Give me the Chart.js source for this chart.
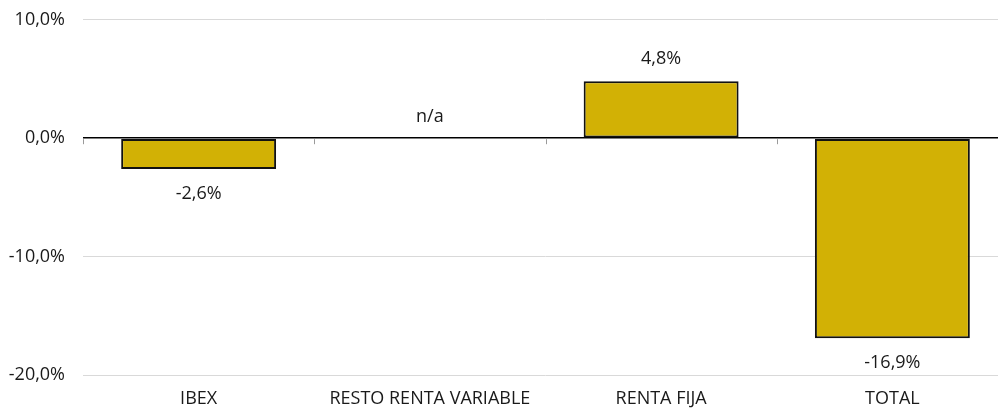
<!DOCTYPE html>
<html>
<head>
<meta charset="utf-8">
<script src="https://cdn.jsdelivr.net/npm/chart.js@4.4.1/dist/chart.umd.min.js"></script>
<style>
  html, body { margin: 0; padding: 0; background: #fff; overflow: hidden; }
  #wrap { width: 1008px; height: 412px; }
</style>
</head>
<body>
<div id="wrap"><canvas id="chart" width="1008" height="412"></canvas></div>
<script>
const categories = ['IBEX', 'RESTO RENTA VARIABLE', 'RENTA FIJA', 'TOTAL'];
const values = [-2.6, null, 4.8, -16.9];
const yTicks = [-20, -10, 0, 10];

const fmt = v => v.toFixed(1).replace('.', ',') + '%';
const FONT = '"Open Sans", "Noto Sans", sans-serif';
const TEXT = '#1a1a1a';
const SIZE = 18;

const labelsPlugin = {
    id: 'barLabels',
    afterDatasetsDraw(chart) {
        const { ctx, scales: { x, y } } = chart;
        const meta = chart.getDatasetMeta(0);
        const zero = y.getPixelForValue(0);
        ctx.save();
        ctx.font = SIZE + 'px ' + FONT;
        ctx.fillStyle = TEXT;
        ctx.textAlign = 'center';
        ctx.textBaseline = 'middle';
        values.forEach((v, i) => {
            const cx = x.getPixelForValue(i);
            if (v === null) {
                ctx.fillText('n/a', cx, zero - 21);
                return;
            }
            const bar = meta.data[i];
            if (v >= 0) {
                ctx.fillText(fmt(v), cx, bar.y - 22);
            } else {
                ctx.fillText(fmt(v), cx, bar.y + 25);
            }
        });
        ctx.restore();
    },
    afterDraw(chart) {
        // small tick marks on the zero line, at category boundaries
        const { ctx, scales: { x, y } } = chart;
        const zero = y.getPixelForValue(0);
        const step = x.getPixelForValue(1) - x.getPixelForValue(0);
        ctx.save();
        ctx.strokeStyle = '#9a9a9a';
        ctx.lineWidth = 1;
        for (let i = 0; i <= categories.length; i++) {
            const px = Math.round(x.getPixelForValue(0) - step / 2 + i * step) + 0.5;
            ctx.beginPath();
            ctx.moveTo(px, zero + 1);
            ctx.lineTo(px, zero + 6);
            ctx.stroke();
        }
        ctx.restore();
    },
};

new Chart(document.getElementById('chart'), {
    type: 'bar',
    data: {
        labels: categories,
        datasets: [{
            data: values,
            backgroundColor: '#d2b105',
            borderColor: '#111',
            borderWidth: 2,
            borderSkipped: false,
            categoryPercentage: 1,
            barPercentage: 0.67,
        }],
    },
    options: {
        responsive: false,
        animation: false,
        layout: { padding: 0 },
        plugins: { legend: { display: false }, tooltip: { enabled: false } },
        scales: {
            x: {
                grid: { display: false },
                border: { display: false },
                ticks: { color: TEXT, font: { family: FONT, size: SIZE }, padding: 5, maxRotation: 0 },
                afterFit: s => { s.height = 37; },
            },
            y: {
                min: -20,
                max: 10,
                afterBuildTicks: s => { s.ticks = yTicks.map(v => ({ value: v })); },
                grid: {
                    color: c => (c.tick.value === 0 ? '#000' : '#d9d9d9'),
                    lineWidth: c => (c.tick.value === 0 ? 1.5 : 1),
                    drawTicks: true,
                    tickLength: 9,
                    tickColor: 'rgba(0,0,0,0)',
                },
                border: { display: false },
                ticks: {
                    color: TEXT,
                    font: { family: FONT, size: SIZE },
                    padding: 9,
                    callback: v => fmt(v),
                },
                afterFit: s => { s.width = 83; },
            },
        },
    },
    plugins: [labelsPlugin],
});
</script>
</body>
</html>
